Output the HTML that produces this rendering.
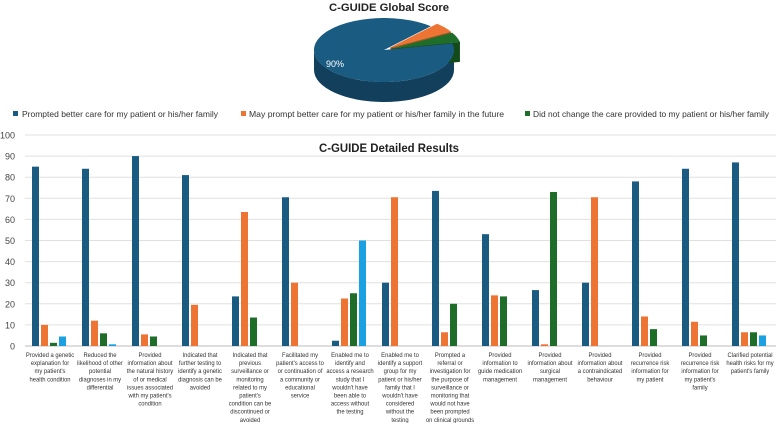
<!DOCTYPE html>
<html><head><meta charset="utf-8"><style>
body{margin:0;background:#fff;width:778px;height:423px;overflow:hidden;font-family:"Liberation Sans",sans-serif}
svg text{font-family:"Liberation Sans",sans-serif}
</style></head><body>
<svg width="778" height="423">
<text x="389" y="11" text-anchor="middle" font-size="11" font-weight="bold" fill="#222" textLength="120" lengthAdjust="spacingAndGlyphs">C-GUIDE Global Score</text>
<g id="pie"></g>
<g>
<rect x="13" y="111" width="5" height="5" fill="#1a5b82"/>
<text x="22" y="117" font-size="8.5" fill="#333" textLength="196" lengthAdjust="spacingAndGlyphs">Prompted better care for my patient or his/her family</text>
<rect x="241" y="111" width="5" height="5" fill="#ed7432"/>
<text x="249" y="117" font-size="8.5" fill="#333" textLength="255" lengthAdjust="spacingAndGlyphs">May prompt better care for my patient or his/her family in the future</text>
<rect x="525" y="111" width="5" height="5" fill="#1e6e2a"/>
<text x="533" y="117" font-size="8.5" fill="#333" textLength="236" lengthAdjust="spacingAndGlyphs">Did not change the care provided to my patient or his/her family</text>
</g>
<g id="grid"></g>
<g id="yaxis"></g>
<text x="389" y="152" text-anchor="middle" font-size="11.5" font-weight="bold" fill="#222" textLength="140" lengthAdjust="spacingAndGlyphs">C-GUIDE Detailed Results</text>
<g id="bars"></g>
<g id="xlabels"></g>
</svg>
<script>
const pieLabels=["Prompted","May prompt","No change"];
const pieValues=[90,5,5];
const categories=[
["Provided a genetic","explanation for","my patient's","health condition"],
["Reduced the","likelihood of other","potential","diagnoses in my","differential"],
["Provided","information about","the natural history","of or medical","issues associated","with my patient's","condition"],
["Indicated that","further testing to","identify a genetic","diagnosis can be","avoided"],
["Indicated that","previous","surveillance or","monitoring","related to my","patient's","condition can be","discontinued or","avoided"],
["Facilitated my","patient's access to","or continuation of","a community or","educational","service"],
["Enabled me to","identify and","access a research","study that I","wouldn't have","been able to","access without","the testing"],
["Enabled me to","identify a support","group for my","patient or his/her","family that I","wouldn't have","considered","without the","testing"],
["Prompted a","referral or","investigation for","the purpose of","surveillance or","monitoring that","would not have","been prompted","on clinical grounds"],
["Provided","information to","guide medication","management"],
["Provided","information about","surgical","management"],
["Provided","information about","a contraindicated","behaviour"],
["Provided","recurrence risk","information for","my patient"],
["Provided","recurrence risk","information for","my patient's","family"],
["Clarified potential","health risks for my","patient's family"]];
const seriesPrompted=[85,84,90,81,23.5,70.5,2.5,30,73.5,53,26.5,30,78,84,87];
const seriesMayPrompt=[10,12,5.5,19.5,63.5,30,22.5,70.5,6.5,24,0.8,70.5,14,11.5,6.5];
const seriesNoChange=[1.5,6,4.5,0,13.5,0,25,0,20,23.5,73,0,8,5,6.5];
const seriesOther=[4.5,0.8,0,0,0,0,50,0,0,0,0,0,0,0,5];
const yTicks=[0,10,20,30,40,50,60,70,80,90,100];
const NS="http://www.w3.org/2000/svg";
function mk(t,a,p){const e=document.createElementNS(NS,t);for(const k in a)e.setAttribute(k,a[k]);p.appendChild(e);return e;}
const y0=346,y100=135,x0=25,gw=50;
const yS=v=>y0-(y0-y100)*v/100;
const grid=document.getElementById('grid'),ya=document.getElementById('yaxis');
yTicks.forEach(t=>{
 const l=mk('line',{x1:x0,x2:776,y1:yS(t),y2:yS(t),stroke:t?'#e0e0e0':'#bbb','stroke-width':1},grid);
 
 
 const tx=mk('text',{x:15,y:yS(t)+3.5,'text-anchor':'end','font-size':9,fill:'#444'},ya);
 tx.textContent=t;
 
 
});
const series=[seriesPrompted,seriesMayPrompt,seriesNoChange,seriesOther];
const cols=['#1a5b82','#ed7432','#1e6e2a','#1ba1e2'];
const bars=document.getElementById('bars'),xl=document.getElementById('xlabels');
categories.forEach((c,i)=>{
 const gx=x0+i*gw;
 series.forEach((s,j)=>{
  const v=s[i]; if(v<=0)return;
  const r=mk('rect',{x:gx+7+j*9,y:yS(v),width:7,height:y0-yS(v),fill:cols[j]},bars);
  
  
 });
 c.forEach((ln,k)=>{
  const t=mk('text',{x:0,y:357+k*8.1,'text-anchor':'middle','font-size':6.8,fill:'#333',transform:`translate(${gx+gw/2},0) scale(0.86,1)`},xl);
  t.textContent=ln;
  
  
 });
});
// pie
const pie=document.getElementById('pie');
const cx=384,cy=50,rx=70,ry=32,dep=20;
const pcol=['#1a5b82','#ed7432','#1e6e2a'],dcol=['#123f5c','#b8561f','#124a1a'];
const tot=pieValues.reduce((a,b)=>a+b,0);
let start=-12*Math.PI/180;
const P=(a,dx,dy)=>[cx+dx+rx*Math.cos(a),cy+dy+ry*Math.sin(a)];
const slices=[];
pieValues.forEach((v,i)=>{const a0=start,a1=start+2*Math.PI*v/tot;start=a1;
 const mid=(a0+a1)/2,off=i?8:0;slices.push({a0,a1,dx:off*Math.cos(mid),dy:off*Math.sin(mid)*0.5,i});});
slices.forEach(s=>{
 const segs=[];
 for(let k=-1;k<=2;k++){const lo=Math.max(s.a0,k*2*Math.PI),hi=Math.min(s.a1,k*2*Math.PI+Math.PI);if(hi>lo)segs.push([lo,hi]);}
 segs.forEach(([lo,hi])=>{
  const p0=P(lo,s.dx,s.dy),p1=P(hi,s.dx,s.dy);
  const d=`M${p0} A${rx},${ry} 0 0 1 ${p1} L${p1[0]},${p1[1]+dep} A${rx},${ry} 0 0 0 ${p0[0]},${p0[1]+dep} Z`;
  const e=mk('path',{d,fill:dcol[s.i]},pie);
  
  
 });
 if(s.i){const p=P(s.a1,s.dx,s.dy);const e=mk('path',{d:`M${cx+s.dx},${cy+s.dy} L${p} l0,${dep} L${cx+s.dx},${cy+s.dy+dep}Z`,fill:dcol[s.i]},pie);
  
  }
});
slices.forEach(s=>{
 const p0=P(s.a0,s.dx,s.dy),p1=P(s.a1,s.dx,s.dy);
 const e=mk('path',{d:`M${cx+s.dx},${cy+s.dy} L${p0} A${rx},${ry} 0 ${s.a1-s.a0>Math.PI?1:0} 1 ${p1} Z`,fill:pcol[s.i]},pie);
 
 
});
const pt=mk('text',{x:326,y:67,'font-size':9,fill:'#fff'},pie);
pt.textContent=pieValues[0]+'%';


</script>
</body></html>
